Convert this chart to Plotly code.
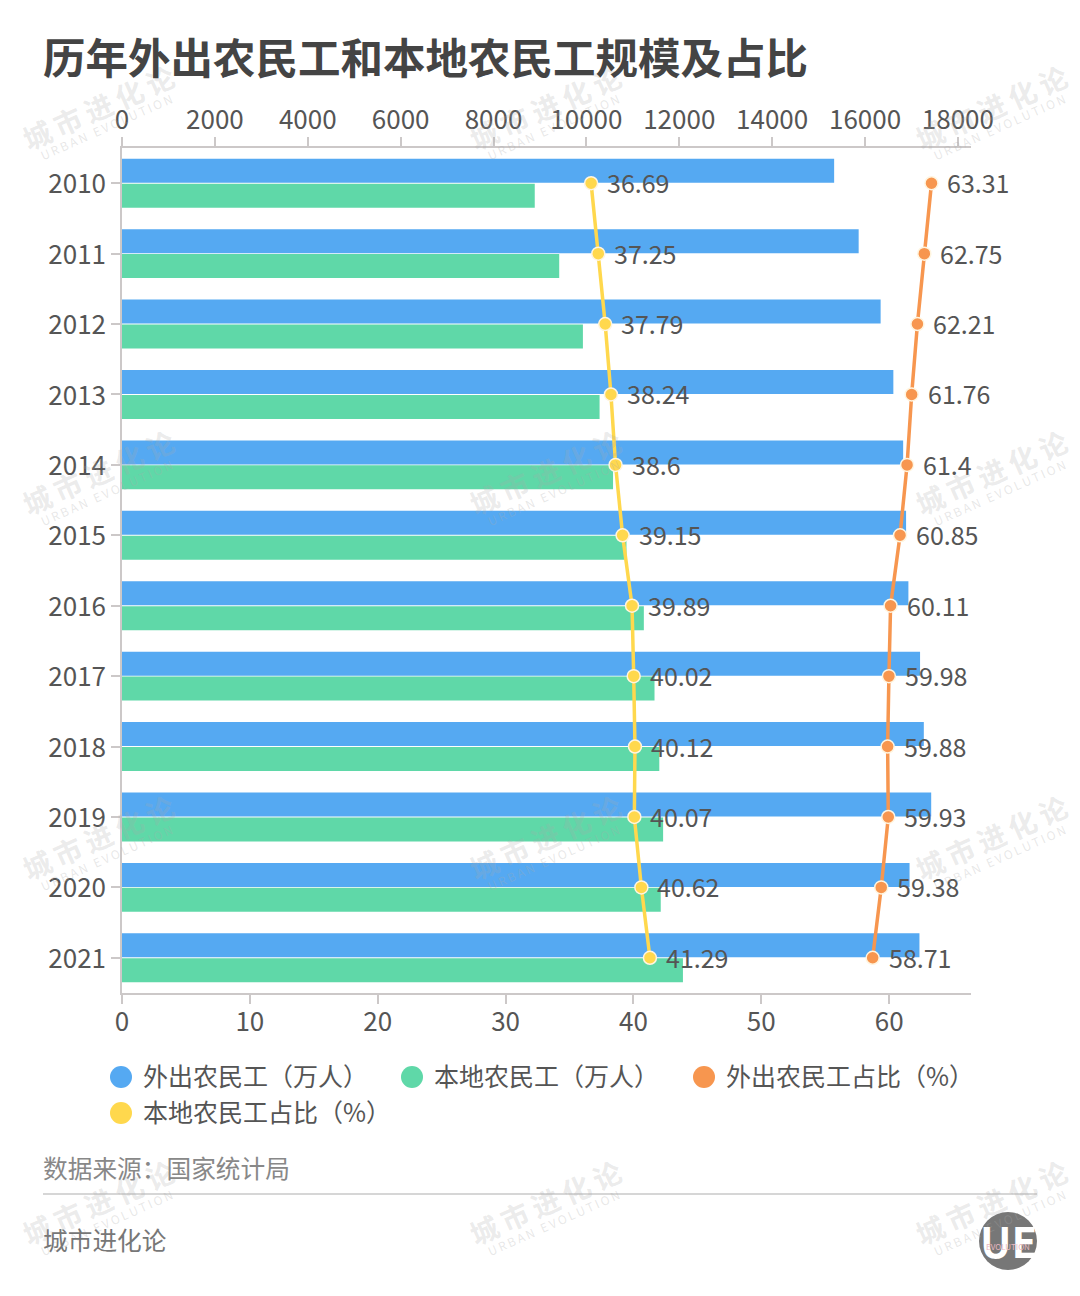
import plotly.graph_objects as go

years = ["2010","2011","2012","2013","2014","2015","2016","2017","2018","2019","2020","2021"]
migrant = [15335,15863,16336,16610,16821,16884,16934,17185,17266,17425,16959,17172]
local = [8888,9415,9925,10284,10574,10863,11237,11467,11570,11652,11601,12079]
migrant_pct = [63.31,62.75,62.21,61.76,61.4,60.85,60.11,59.98,59.88,59.93,59.38,58.71]
local_pct = [36.69,37.25,37.79,38.24,38.6,39.15,39.89,40.02,40.12,40.07,40.62,41.29]
top_ticks = [0,2000,4000,6000,8000,10000,12000,14000,16000,18000]
bottom_ticks = [0,10,20,30,40,50,60]
names = ["外出农民工（万人）","本地农民工（万人）","外出农民工占比（%）","本地农民工占比（%）"]
BLUE, GREEN, ORANGE, YELLOW = "#55A9F2", "#5FD8A8", "#F7964F", "#FFD84D"
TXT = "#555555"
FONT = "Noto Sans CJK SC"
W, H = 1080, 1296
L, R, T, B = 122, 971, 148, 993

fig = go.Figure()
fig.add_bar(y=years, x=migrant, orientation="h", marker=dict(color=BLUE, line_width=0), xaxis="x", yaxis="y", name=names[0], showlegend=False)
fig.add_bar(y=years, x=local, orientation="h", marker=dict(color=GREEN, line_width=0), xaxis="x", yaxis="y", name=names[1], showlegend=False)
for vals, col, nm in ((migrant_pct, ORANGE, names[2]), (local_pct, YELLOW, names[3])):
    fig.add_scatter(y=years, x=vals, xaxis="x2", yaxis="y", name=nm, showlegend=False,
                    mode="lines+markers", cliponaxis=False,
                    line=dict(color=col, width=3.5),
                    marker=dict(size=13, color=col, line=dict(color="#FFF5E0", width=1.5)))
    for i, v in enumerate(vals):
        fig.add_annotation(xref="x2", yref="y", x=v, y=i, text=str(v), showarrow=False, xanchor="left", yanchor="middle",
                           xshift=14, yshift=1, font=dict(size=25, color=TXT, family=FONT))

ax = dict(showgrid=False, zeroline=False, showline=True, ticks="outside", ticklen=9, tickwidth=1.5,
          linewidth=1.5, linecolor="#CCC8C8", tickcolor="#CCC8C8",
          tickfont=dict(size=26, color=TXT, family=FONT))
fig.update_layout(
    width=W, height=H, margin=dict(l=L, r=W-R, t=T, b=H-B, autoexpand=False),
    paper_bgcolor="white", plot_bgcolor="white", showlegend=False,
    barmode="group", bargap=0.29, bargroupgap=0.04,
    font=dict(family=FONT, color=TXT),
    xaxis=dict(side="top", range=[0, 18282], tickmode="array", tickvals=top_ticks, ticktext=[str(t) for t in top_ticks], anchor="y", ticklabelstandoff=-2, **ax),
    xaxis2=dict(side="bottom", overlaying="x", range=[0, 66.4], tickmode="array", tickvals=bottom_ticks, ticktext=[str(t) for t in bottom_ticks], anchor="y", ticklabelstandoff=-4, **ax),
    yaxis=dict(type="category", categoryorder="array", categoryarray=years, range=[11.5, -0.5], ticklabelshift=-1, **ax),
)

def px(x): return (x - L) / (R - L)
def py(y): return 1 - (y - T) / (B - T)

def text(s, x, y, size, color=TXT, anchor="left", bold=False, angle=0):
    fig.add_annotation(xref="paper", yref="paper", x=px(x), y=py(y), text=("<b>%s</b>" % s if bold else s),
                       showarrow=False, xanchor=anchor, yanchor="middle", textangle=angle,
                       font=dict(size=size, color=color, family=FONT))

def dot(cx, cy, r, color):
    fig.add_shape(type="circle", xref="paper", yref="paper", x0=px(cx-r), x1=px(cx+r), y0=py(cy-r), y1=py(cy+r),
                  fillcolor=color, line_width=0, layer="above")

# watermarks
for cx in (0, 447, 893):
    for cy in (0, 365, 730, 1095):
        text("\u2009".join("城市进化论"), cx+98, cy+107, 28, "rgba(170,170,170,0.24)", "center", True, -24)
        text("\u2009".join("URBAN EVOLUTION"), cx+106, cy+127, 12, "rgba(170,170,170,0.28)", "center", False, -24)

text("历年外出农民工和本地农民工规模及占比", 41, 56, 42.5, "#444444", bold=True)
for cx, cy, col, nm in ((121,1077,BLUE,names[0]), (412,1077,GREEN,names[1]), (704,1077,ORANGE,names[2]), (121,1113,YELLOW,names[3])):
    dot(cx, cy, 11, col)
    text(nm, cx+20, cy-2, 25)
text("数据来源：国家统计局", 41, 1167, 24.7, "#888888")
fig.add_shape(type="line", xref="paper", yref="paper", x0=px(43), x1=px(1037), y0=py(1194), y1=py(1194), line=dict(color="#C8C8C8", width=1.5))
text("城市进化论", 41, 1239, 24.7, "#777777")
dot(1008, 1241, 29, "#777777")
text("UE", 1008, 1239, 42, "white", "center", True)
text("EVOLUTION", 1008, 1246, 8, "#E8B8C0", "center")

fig.write_html("out.html", config=dict(displayModeBar=False), post_script="document.body.style.margin='0';")
